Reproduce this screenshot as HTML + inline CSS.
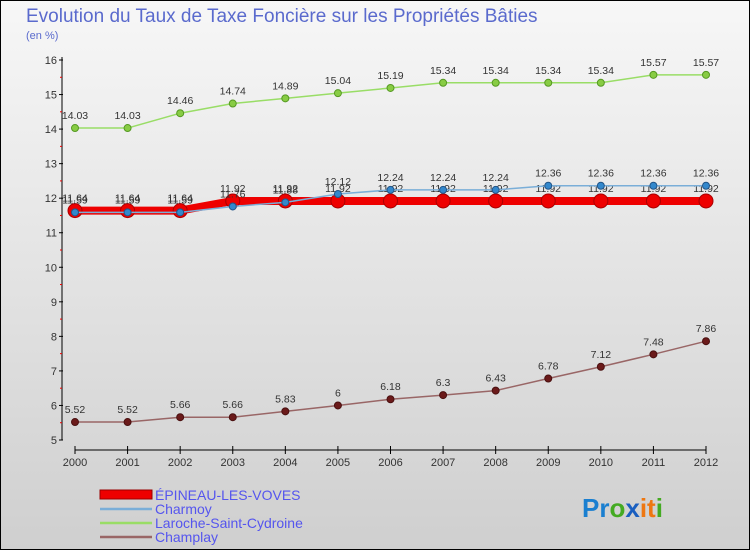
<!DOCTYPE html>
<html><head><meta charset="utf-8"><style>
body{margin:0}
#c{width:750px;height:550px;position:relative;overflow:hidden;font-family:"Liberation Sans",sans-serif}
</style></head><body>
<div id="c">
<svg id="s" width="750" height="550" xmlns="http://www.w3.org/2000/svg">
<defs><linearGradient id="bg" x1="0" y1="0" x2="0" y2="1"><stop offset="0" stop-color="#f7f7f7"/><stop offset="1" stop-color="#cfcfcf"/></linearGradient></defs>
<rect x="0.5" y="0.5" width="749" height="549" fill="url(#bg)" stroke="#000"/>
<text x="26" y="22" font-size="19" fill="#5a6acd">Evolution du Taux de Taxe Foncière sur les Propriétés Bâties</text>
<text x="26" y="39" font-size="11" fill="#5a6acd">(en %)</text>
<g id="axes"></g><g id="series"></g>
<g>
<rect x="100" y="490" width="52" height="9" fill="#e00" stroke="#900" stroke-width="1"/>
<text x="155" y="500" font-size="14" fill="#5555ee">ÉPINEAU-LES-VOVES</text>
<line x1="100" y1="509" x2="152" y2="509" stroke="#7aaed8" stroke-width="2.5"/>
<text x="155" y="514" font-size="14" fill="#5555ee">Charmoy</text>
<line x1="100" y1="523" x2="152" y2="523" stroke="#99dd66" stroke-width="2.5"/>
<text x="155" y="528" font-size="14" fill="#5555ee">Laroche-Saint-Cydroine</text>
<line x1="100" y1="537" x2="152" y2="537" stroke="#996666" stroke-width="2.5"/>
<text x="155" y="542" font-size="14" fill="#5555ee">Champlay</text>
</g>
<text x="582" y="517" font-size="26" font-weight="bold"><tspan fill="#1a7fd0">Pr</tspan><tspan fill="#44aa22">o</tspan><tspan fill="#1a5fc0">x</tspan><tspan fill="#ee7711">it</tspan><tspan fill="#44aa22">i</tspan></text>
</svg>
</div>
<script>
const years=["2000","2001","2002","2003","2004","2005","2006","2007","2008","2009","2010","2011","2012"];
const yTicks=[5,6,7,8,9,10,11,12,13,14,15,16];
const epineau=[11.64,11.64,11.64,11.92,11.92,11.92,11.92,11.92,11.92,11.92,11.92,11.92,11.92];
const charmoy=[11.59,11.59,11.59,11.76,11.88,12.12,12.24,12.24,12.24,12.36,12.36,12.36,12.36];
const laroche=[14.03,14.03,14.46,14.74,14.89,15.04,15.19,15.34,15.34,15.34,15.34,15.57,15.57];
const champlay=[5.52,5.52,5.66,5.66,5.83,6,6.18,6.3,6.43,6.78,7.12,7.48,7.86];
const NS="http://www.w3.org/2000/svg";
const X=i=>75+i*(706-75)/(years.length-1);
const Y=v=>60+(16-v)*(380/11);
function mk(t,a,p,txt){const e=document.createElementNS(NS,t);for(const k in a)e.setAttribute(k,a[k]);if(txt!==undefined)e.textContent=txt;p.appendChild(e);return e;}
const ax=document.getElementById('axes'),sr=document.getElementById('series');
let l=mk('line',{x1:62,y1:57,x2:62,y2:440,stroke:'#000'},ax);

yTicks.forEach(v=>{mk('line',{x1:59,y1:Y(v),x2:63,y2:Y(v),stroke:'#000'},ax);
 if(v<16)mk('line',{x1:60,y1:Y(v+0.5),x2:62,y2:Y(v+0.5),stroke:'#e00'},ax);
 let t=mk('text',{x:57,y:Y(v)+4,'font-size':11,'text-anchor':'end',fill:'#333'},ax,String(v));
 });
l=mk('line',{x1:75,y1:450,x2:706,y2:450,stroke:'#000'},ax);

years.forEach((y,i)=>{mk('line',{x1:X(i),y1:446,x2:X(i),y2:454,stroke:'#000'},ax);
 let t=mk('text',{x:X(i),y:466,'font-size':11,'text-anchor':'middle',fill:'#333'},ax,y);
 });
function series(d,name,col,w,r,dot,dotStroke){
 const g=mk('g',{},sr);
 mk('polyline',{points:d.map((v,i)=>X(i)+','+Y(v)).join(' '),fill:'none',stroke:col,'stroke-width':w,'stroke-linejoin':'round'},g);
 d.forEach((v,i)=>{const c=mk('circle',{cx:X(i),cy:Y(v),r:r,fill:dot,stroke:dotStroke,'stroke-width':1},g);
  
  const t=mk('text',{x:X(i),y:Y(v)-9,'font-size':10.5,'text-anchor':'middle',fill:'#333'},g,String(v));
  });
}
series(champlay,'champlay','#996666',1.5,3.5,'#6b1a1a','#4a1010');
series(laroche,'laroche','#99dd66',1.5,3.5,'#88cc44','#559922');
series(epineau,'epineau','#ee0000',8,7,'#ee0000','#aa0000');
series(charmoy,'charmoy','#7aaed8',1.5,3.5,'#3388cc','#225588');
</script>
</body></html>
